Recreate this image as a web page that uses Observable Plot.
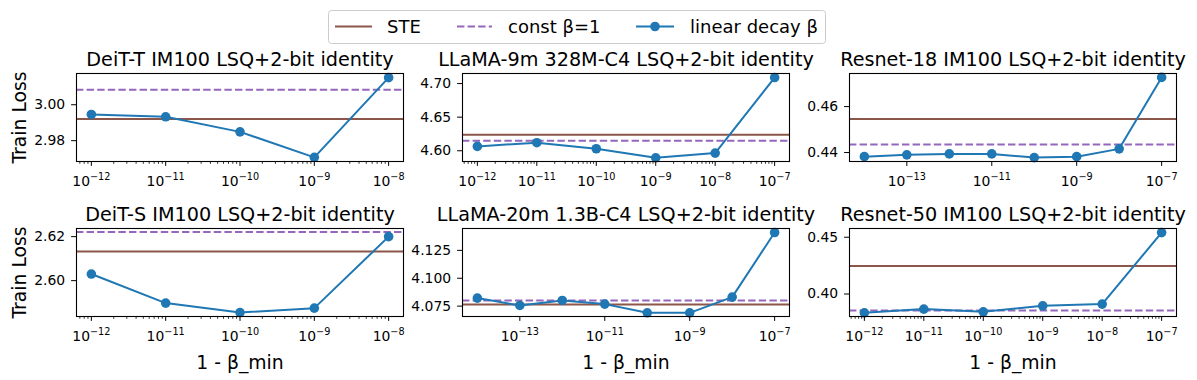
<!DOCTYPE html>
<html>
<head>
<meta charset="utf-8">
<script src="https://cdn.jsdelivr.net/npm/d3@7"></script>
<script src="https://cdn.jsdelivr.net/npm/@observablehq/plot@0.6"></script>
<style>
  html, body { margin: 0; padding: 0; background: #fff; }
  #root { position: relative; width: 1197px; height: 380px; overflow: hidden; font-family: "DejaVu Sans", sans-serif; }
  #root svg { position: absolute; overflow: visible; }
</style>
</head>
<body>
<div id="root"></div>
<script>
// ---------------- data ----------------
const seriesNames = ["STE", "const β=1", "linear decay β"];
const colors = { ste: "#8c564b", cst: "#9467bd", lin: "#1f77b4" };

const titles = [
  "DeiT-T IM100 LSQ+2-bit identity",
  "LLaMA-9m 328M-C4 LSQ+2-bit identity",
  "Resnet-18 IM100 LSQ+2-bit identity",
  "DeiT-S IM100 LSQ+2-bit identity",
  "LLaMA-20m 1.3B-C4 LSQ+2-bit identity",
  "Resnet-50 IM100 LSQ+2-bit identity"
];

// x values: 1 - beta_min
const xDeitT   = [1e-12, 1e-11, 1e-10, 1e-9, 1e-8];
const xLlama9  = [1e-12, 1e-11, 1e-10, 1e-9, 1e-8, 1e-7];
const xRes18   = [1e-14, 1e-13, 1e-12, 1e-11, 1e-10, 1e-9, 1e-8, 1e-7];
const xDeitS   = [1e-12, 1e-11, 1e-10, 1e-9, 1e-8];
const xLlama20 = [1e-14, 1e-13, 1e-12, 1e-11, 1e-10, 1e-9, 1e-8, 1e-7];
const xRes50   = [1e-12, 1e-11, 1e-10, 1e-9, 1e-8, 1e-7];

// linear decay beta train loss
const yDeitT   = [2.9946, 2.9933, 2.9849, 2.9707, 3.0151];
const yLlama9  = [4.6065, 4.6120, 4.6030, 4.5895, 4.5965, 4.7090];
const yRes18   = [0.4382, 0.4390, 0.4394, 0.4394, 0.4378, 0.4382, 0.4416, 0.4727];
const yDeitS   = [2.6030, 2.5898, 2.5855, 2.5875, 2.6200];
const yLlama20 = [4.0822, 4.0756, 4.0801, 4.0768, 4.0690, 4.0690, 4.0831, 4.1410];
const yRes50   = [0.3834, 0.3867, 0.3843, 0.3896, 0.3911, 0.4541];

// baselines
const steValues   = [2.9920, 4.6240, 0.4546, 2.6133, 4.0765, 0.4246];
const constValues = [3.0084, 4.6150, 0.4435, 2.6221, 4.0801, 0.3855];

// tick labels
const yTicks = [
  [2.98, 3.00],
  [4.60, 4.65, 4.70],
  [0.44, 0.46],
  [2.60, 2.62],
  [4.075, 4.100, 4.125],
  [0.40, 0.45]
];
const yFormats = [".2f", ".2f", ".2f", ".2f", ".3f", ".2f"];
const xTicksDecade = [1e-12, 1e-11, 1e-10, 1e-9, 1e-8, 1e-7];
const xTicksTwoDecade = [1e-13, 1e-11, 1e-9, 1e-7];

// axis domains (matplotlib autoscale with 5% margins)
const yDomains = [
  [2.9684, 3.0174],
  [4.5840, 4.7150],
  [0.4361, 0.4744],
  [2.5837, 2.6237],
  [4.0657, 4.1446],
  [0.3802, 0.4577]
];
const xDomains = [
  [10 ** -12.2, 10 ** -7.8],
  [10 ** -12.25, 10 ** -6.75],
  [10 ** -14.35, 10 ** -6.65],
  [10 ** -12.2, 10 ** -7.8],
  [10 ** -14.35, 10 ** -6.65],
  [10 ** -12.25, 10 ** -6.75]
];

const xs = [xDeitT, xLlama9, xRes18, xDeitS, xLlama20, xRes50];
const ys = [yDeitT, yLlama9, yRes18, yDeitS, yLlama20, yRes50];
const useMinor = [true, true, false, true, false, true];
const xTickSets = [xTicksDecade, xTicksDecade, xTicksTwoDecade, xTicksDecade, xTicksTwoDecade, xTicksDecade];

// ---------------- layout ----------------
const frameLefts = [76, 462, 849];
const frameTops = [73, 228];
const FW = 327, FH = 88;
const mL = 80, mR = 12, mT = 40, mB = 62;
const FONT = "DejaVu Sans";

const inDomain = ([a, b]) => v => v >= a * 0.9999 && v <= b * 1.0001;

function minorTicks([a, b]) {
  const out = [];
  for (let k = Math.floor(Math.log10(a)); k <= Math.ceil(Math.log10(b)); k++) {
    for (let m = 2; m <= 9; m++) {
      const v = m * 10 ** k;
      if (v >= a && v <= b) out.push(v);
    }
  }
  return out;
}

function superscriptify(svg) {
  const walker = document.createTreeWalker(svg, NodeFilter.SHOW_TEXT);
  const nodes = [];
  while (walker.nextNode()) nodes.push(walker.currentNode);
  for (const n of nodes) {
    const m = /^10\^(.+)$/.exec(n.nodeValue);
    if (!m) continue;
    const parent = n.parentNode;
    const base = document.createTextNode("10");
    const sup = document.createElementNS("http://www.w3.org/2000/svg", "tspan");
    sup.setAttribute("font-size", "9.7");
    sup.setAttribute("dy", "-5.6");
    sup.textContent = m[1];
    parent.replaceChild(base, n);
    parent.insertBefore(sup, base.nextSibling);
  }
}

const root = document.getElementById("root");

for (let i = 0; i < 6; i++) {
  const col = i % 3, row = Math.floor(i / 3);
  const data = xs[i].map((x, j) => ({ x, y: ys[i][j] }));
  const majors = xTickSets[i].filter(inDomain(xDomains[i]));
  const marks = [
    Plot.ruleY([steValues[i]], { stroke: colors.ste, strokeWidth: 2 }),
    Plot.ruleY([constValues[i]], { stroke: colors.cst, strokeWidth: 2, strokeDasharray: "7.4,3.2" }),
    Plot.line(data, { x: "x", y: "y", stroke: colors.lin, strokeWidth: 2 }),
    Plot.dot(data, { x: "x", y: "y", r: 4.8, fill: colors.lin }),
    Plot.axisY({ ticks: yTicks[i], tickFormat: d3.format(yFormats[i]), tickSize: 4.9, tickPadding: 6.5, fontSize: 13.9, label: null }),
    Plot.axisX({ ticks: majors, tickFormat: d => "10^\u2212" + Math.round(-Math.log10(d)), tickSize: 4.9, tickPadding: 9.7, fontSize: 13.9, label: null }),
    Plot.text([titles[i]], { text: d => d, frameAnchor: "top", lineAnchor: "bottom", dy: -7.6, fontSize: 19.2 })
  ];
  if (useMinor[i]) {
    marks.push(Plot.axisX({ ticks: minorTicks(xDomains[i]), tickFormat: () => "", tickSize: 2.8, strokeWidth: 0.8, label: null }));
  }
  if (col === 0) {
    marks.push(Plot.text(["Train Loss"], { text: d => d, frameAnchor: "left", rotate: -90, lineAnchor: "bottom", textAnchor: "middle", dx: -51, fontSize: 18.8 }));
  }
  if (row === 1) {
    marks.push(Plot.text(["1 - β_min"], { text: d => d, frameAnchor: "bottom", lineAnchor: "bottom", dy: 52, fontSize: 18.8 }));
  }
  marks.push(Plot.frame({ stroke: "black", strokeWidth: 1.1 }));

  const svg = Plot.plot({
    width: mL + FW + mR,
    height: mT + FH + mB,
    marginLeft: mL, marginRight: mR, marginTop: mT, marginBottom: mB,
    x: { type: "log", domain: xDomains[i], label: null },
    y: { type: "linear", domain: yDomains[i], label: null },
    style: { fontFamily: FONT, fontSize: "13.9px", background: "transparent", overflow: "visible", color: "black" },
    marks
  });
  superscriptify(svg);
  svg.style.left = (frameLefts[col] - mL) + "px";
  svg.style.top = (frameTops[row] - mT) + "px";
  root.appendChild(svg);
}

// ---------------- legend ----------------
const leg = d3.select(root).append("svg")
  .attr("width", 1197).attr("height", 50)
  .style("left", "0px").style("top", "0px")
  .attr("font-family", FONT);
leg.append("rect")
  .attr("x", 328.5).attr("y", 10.5).attr("width", 497).attr("height", 33)
  .attr("rx", 3).attr("fill", "white").attr("stroke", "#cccccc").attr("stroke-width", 1);
const legendItems = [
  { name: seriesNames[0], x1: 335, x2: 372, tx: 387, color: colors.ste, dash: null, dot: false },
  { name: seriesNames[1], x1: 457, x2: 492, tx: 508, color: colors.cst, dash: "7.4,3.2", dot: false },
  { name: seriesNames[2], x1: 636, x2: 674, tx: 690, color: colors.lin, dash: null, dot: true }
];
for (const it of legendItems) {
  leg.append("line").attr("x1", it.x1).attr("x2", it.x2).attr("y1", 26.5).attr("y2", 26.5)
    .attr("stroke", it.color).attr("stroke-width", 2).attr("stroke-dasharray", it.dash);
  if (it.dot) leg.append("circle").attr("cx", (it.x1 + it.x2) / 2).attr("cy", 26.5).attr("r", 4.8).attr("fill", it.color);
  leg.append("text").attr("x", it.tx).attr("y", 33).attr("font-size", 18).attr("fill", "black").text(it.name);
}
</script>
</body>
</html>
